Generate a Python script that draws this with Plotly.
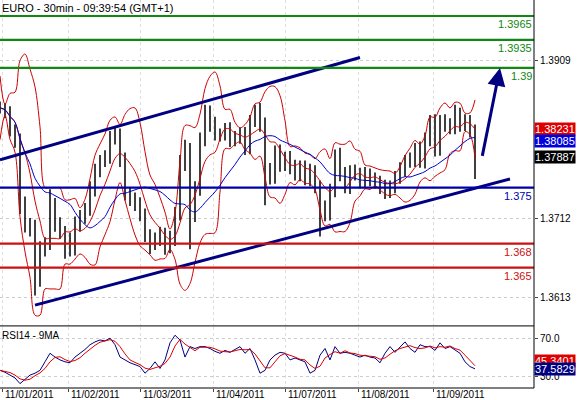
import plotly.graph_objects as go
import pandas as pd

close = [1.3850,1.3845,1.3823,1.3810,1.3729,1.3704,1.3698,1.3636,1.3673,1.3680,
1.3729,1.3704,1.3696,1.3686,1.3673,1.3704,1.3713,1.3723,1.3748,1.3771,
1.3783,1.3788,1.3813,1.3817,1.3785,1.3742,1.3736,1.3729,1.3717,1.3692,
1.3680,1.3686,1.3692,1.3676,1.3686,1.3717,1.3779,1.3798,1.3717,1.3748,
1.3810,1.3845,1.3829,1.3817,1.3817,1.3823,1.3810,1.3813,1.3817,1.3800,
1.3833,1.3848,1.3829,1.3773,1.3763,1.3795,1.3779,1.3788,1.3776,1.3767,
1.3776,1.3761,1.3771,1.3751,1.3726,1.3717,1.3746,1.3792,1.3767,1.3751,
1.3771,1.3767,1.3758,1.3767,1.3761,1.3757,1.3751,1.3746,1.3751,1.3763,
1.3773,1.3783,1.3785,1.3798,1.3783,1.3810,1.3833,1.3798,1.3833,1.3829,
1.3825,1.3842,1.3829,1.3833,1.3823,1.3789]
up_pips = [8,6,7,6,8,10,8,12,10,8, 19,8,9,6,8,10,9,8,10,9, 8,9,8,8,7,9,8,8,9,7,
6,8,9,8,10,9,12,12,8,10, 9,9,8,10,7,8,9,8,8,9, 8,6,8,9,8,8,9,7,8,9,
8,8,9,7,8,8,9,6,8,9, 7,8,8,9,7,8,8,9,8,8, 9,8,9,8,10,9,8,9,8,9, 8,12,8,9,8,6]
dn_pips = [7,8,9,10,12,10,9,21,10,9, 8,9,10,25,9,8,9,8,8,9, 8,7,8,9,9,8,9,8,9,10,
13,8,9,10,8,9,8,8,44,10, 8,8,9,8,9,8,9,8,8,9, 8,7,9,45,9,8,9,8,9,8,
9,8,9,8,37,9,8,8,9,8, 9,8,9,8,9,8,9,10,9,8, 8,9,8,9,8,9,8,9,8,9, 8,8,9,8,10,28]
rsi = [36,34,31,28,22,27,31,33,36,45,54,50,47,45,44,50,54,58,63,66,
68,67,70,63,50,47,44,42,40,33,38,45,38,47,65,73,68,50,61,59,
61,61,59,56,54,57,55,58,61,54,59,47,33,36,47,52,55,54,47,49,
47,45,33,36,52,59,47,61,54,55,54,52,50,52,50,49,44,54,61,55,
61,66,59,55,63,61,61,57,65,59,61,57,54,45,40,37.58]
green_levels = [1.3965, 1.3935, 1.39]
green_labels = ["1.3965", "1.3935", "1.39"]
blue_levels = [1.375]
red_levels = [1.368, 1.365]
red_labels = ["1.368", "1.365"]
upper_channel_x = [0, 72]
upper_channel_y = [1.3785, 1.3913]
lower_channel_x = [7, 102]
lower_channel_y = [1.3603, 1.3761]
arrow_x = [96.4, 100.0]
arrow_y = [1.3788, 1.3900]
price_ticks = [1.3909, 1.3712, 1.3613]
date_ticks = [0.4, 13.6, 28, 42.6, 57, 71.6, 86.6]
date_labels = ["11/01/2011","11/02/2011","11/03/2011","11/04/2011","11/07/2011","11/08/2011","11/09/2011"]

n = len(close)
x = list(range(n))
opn = [close[0]] + close[:-1]
high = [max(o, c) + u/10000 for o, c, u in zip(opn, close, up_pips)]
low = [min(o, c) - d/10000 for o, c, d in zip(opn, close, dn_pips)]
s = pd.Series(close)
mid = s.rolling(6, min_periods=1).mean()
sd = s.rolling(6, min_periods=2).std().fillna(0.002)
bb_up, bb_dn = mid + 2*sd, mid - 2*sd
ma_long = s.rolling(15, min_periods=1).mean()
rs = pd.Series(rsi)
rsi_ma = rs.rolling(3, min_periods=1).mean()

fig = go.Figure()
fig.add_trace(go.Scatter(x=x, y=bb_up, mode="lines", line=dict(color="#cc0000", width=1, shape="spline"), yaxis="y"))
fig.add_trace(go.Scatter(x=x, y=bb_dn, mode="lines", line=dict(color="#cc0000", width=1, shape="spline"), yaxis="y"))
fig.add_trace(go.Scatter(x=x, y=mid, mode="lines", line=dict(color="#cc0000", width=1, shape="spline"), yaxis="y"))
fig.add_trace(go.Scatter(x=x, y=ma_long, mode="lines", line=dict(color="#0000cc", width=1, shape="spline"), yaxis="y"))
fig.add_trace(go.Ohlc(x=x, open=opn, high=high, low=low, close=close, yaxis="y",
                      increasing=dict(line=dict(color="black", width=1.5)),
                      decreasing=dict(line=dict(color="black", width=1.5)), tickwidth=0.15))
fig.add_trace(go.Scatter(x=x, y=rsi, mode="lines", line=dict(color="#000080", width=1), yaxis="y2"))
fig.add_trace(go.Scatter(x=x, y=rsi_ma, mode="lines", line=dict(color="#dd0000", width=1), yaxis="y2"))
fig.add_trace(go.Scatter(x=upper_channel_x, y=upper_channel_y, mode="lines", line=dict(color="#000080", width=3), yaxis="y"))
fig.add_trace(go.Scatter(x=lower_channel_x, y=lower_channel_y, mode="lines", line=dict(color="#000080", width=3), yaxis="y"))

for v, t in zip(green_levels, green_labels):
    fig.add_hline(y=v, line=dict(color="#118811", width=2.2), yref="y")
    fig.add_annotation(x=1, xref="paper", y=v, yref="y", text=t, showarrow=False, xanchor="right", yanchor="top",
                       font=dict(color="#118811", size=11))
for v in blue_levels:
    fig.add_hline(y=v, line=dict(color="#0000aa", width=2.2), yref="y")
    fig.add_annotation(x=1, xref="paper", y=v, yref="y", text="1.375", showarrow=False, xanchor="right", yanchor="top",
                       font=dict(color="#0000aa", size=11))
for v, t in zip(red_levels, red_labels):
    fig.add_hline(y=v, line=dict(color="#cc1111", width=2.2), yref="y")
    fig.add_annotation(x=1, xref="paper", y=v, yref="y", text=t, showarrow=False, xanchor="right", yanchor="top",
                       font=dict(color="#cc1111", size=11))

fig.add_annotation(x=arrow_x[1], y=arrow_y[1], ax=arrow_x[0], ay=arrow_y[0], xref="x", yref="y", axref="x", ayref="y",
                   showarrow=True, arrowhead=2, arrowsize=1.2, arrowwidth=3, arrowcolor="#000080", text="")

def tag(yv, yref, text, bg):
    fig.add_annotation(x=1.0, xref="paper", y=yv, yref=yref, text=text, showarrow=False, xanchor="left",
                       bgcolor=bg, font=dict(color="white", size=11), borderpad=0)
tag(1.38231, "y", "1.38231", "#dd0000")
tag(1.38085, "y", "1.38085", "#0000dd")
tag(close[-1], "y", "1.37887", "black")
tag(45.34, "y2", "45.3401", "#dd0000")
tag(37.58, "y2", "37.5829", "#000080")

for xv, t in zip(date_ticks, date_labels):
    fig.add_annotation(x=xv, xref="x", y=0, yref="paper", text=t, showarrow=False, xanchor="left", yanchor="top",
                       xshift=1, yshift=1, font=dict(size=10, color="black"))

fig.add_annotation(x=0, xref="paper", y=1, yref="paper", text="EURO - 30min - 09:39:54 (GMT+1)", showarrow=False,
                   xanchor="left", yanchor="top", font=dict(size=11, color="black"))
fig.add_annotation(x=0, xref="paper", y=0.155, yref="paper", text="RSI14 - 9MA", showarrow=False,
                   xanchor="left", yanchor="top", font=dict(size=10, color="black"))
fig.add_shape(type="line", xref="paper", yref="paper", x0=0, x1=1, y0=0.16, y1=0.16, line=dict(color="black", width=1))
fig.add_shape(type="line", xref="paper", yref="paper", x0=1, x1=1, y0=0, y1=1, line=dict(color="black", width=1))
fig.add_shape(type="line", xref="paper", yref="paper", x0=0, x1=1, y0=0, y1=0, line=dict(color="black", width=1))

fig.update_layout(
    width=585, height=400, margin=dict(l=0, r=51, t=0, b=12),
    paper_bgcolor="white", plot_bgcolor="white", showlegend=False,
    font=dict(family="Liberation Sans, Arial", size=11, color="black"),
    xaxis=dict(range=[0, 106.8], tickvals=date_ticks, showticklabels=False, ticks="outside", ticklen=3,
               showgrid=True, gridcolor="#dddddd", griddash="dot",
               rangeslider=dict(visible=False), zeroline=False, anchor="y2"),
    yaxis=dict(domain=[0.16, 1], range=[1.3577, 1.3985], side="right", tickvals=price_ticks,
               ticktext=["1.3909", "1.3712", "1.3613"], showgrid=True, gridcolor="#cccccc", griddash="dot",
               ticks="outside", ticklen=3, tickfont=dict(size=10), zeroline=False),
    yaxis2=dict(domain=[0, 0.157], range=[17.4, 81.6], side="right", tickvals=[70, 30],
                ticktext=["70.0", "30.0"], showgrid=True, gridcolor="#cccccc", griddash="dot",
                ticks="outside", ticklen=3, tickfont=dict(size=10), zeroline=False),
)
fig.write_html("out.html", config={"displayModeBar": False},
               post_script="document.body.style.margin='0';document.body.style.overflow='hidden';")
